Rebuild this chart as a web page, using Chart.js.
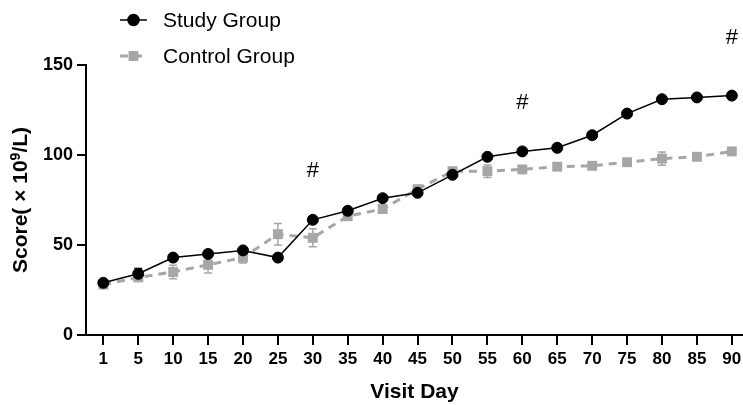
<!DOCTYPE html>
<html>
<head>
<meta charset="utf-8">
<script src="https://cdn.jsdelivr.net/npm/chart.js@4.4.1/dist/chart.umd.min.js"></script>
<style>
  html, body { margin: 0; padding: 0; background: #fff; }
  #wrap { width: 743px; height: 405px; }
</style>
</head>
<body>
<div id="wrap"><canvas id="scoreChart" width="743" height="405"></canvas></div>
<script>
// values
const days = ['1', '5', '10', '15', '20', '25', '30', '35', '40', '45',
  '50', '55', '60', '65', '70', '75', '80', '85', '90'];
const studyGroup = [29, 34, 43, 45, 47, 43, 64, 69, 76, 79,
  89, 99, 102, 104, 111, 123, 131, 132, 133];
const studyErr = [1, 3, 1, 1, 1, 1, 1, 1, 1, 1,
  1, 1, 1, 1, 1, 1, 1, 1, 1];
const controlGroup = [28, 32, 35, 39, 43, 56, 54, 66, 70, 81,
  91, 91, 92, 93.5, 94, 96, 98, 99, 102];
const controlErr = [1.5, 2, 3.7, 4.5, 3, 6, 5, 1.5, 1.5, 2,
  2, 3.5, 1, 1, 1, 1, 3.7, 1, 1];
const yTicks = [0, 50, 100, 150];
const hashDays = ['30', '60', '90'];
const hashLevel = [91, 129, 165];

const BLACK = '#000';
const GRAY = '#a6a6a6';
const FONT = "'Liberation Sans', Arial, sans-serif";

const toPoints = (arr) => arr.map((v, i) => ({ x: i, y: v }));

// error bars drawn under the markers
const errorBars = {
  id: 'errorBars',
  beforeDatasetsDraw(chart) {
    const { ctx, scales: { x, y } } = chart;
    chart.data.datasets.forEach((ds) => {
      ctx.save();
      ctx.strokeStyle = ds.borderColor;
      ctx.lineWidth = 1.5;
      ctx.setLineDash([]);
      ds.data.forEach((p, i) => {
        const e = ds.errors[i];
        const px = x.getPixelForValue(p.x);
        const top = y.getPixelForValue(p.y + e);
        const bot = y.getPixelForValue(p.y - e);
        ctx.beginPath();
        ctx.moveTo(px, top); ctx.lineTo(px, bot);
        ctx.moveTo(px - 4, top); ctx.lineTo(px + 4, top);
        ctx.moveTo(px - 4, bot); ctx.lineTo(px + 4, bot);
        ctx.stroke();
      });
      ctx.restore();
    });
  }
};

// "#" significance marks
const hashMarks = {
  id: 'hashMarks',
  afterDatasetsDraw(chart) {
    const { ctx, scales: { x, y } } = chart;
    ctx.save();
    ctx.fillStyle = BLACK;
    ctx.font = '22px ' + FONT;
    ctx.textAlign = 'center';
    ctx.textBaseline = 'middle';
    hashDays.forEach((d, k) => {
      ctx.fillText('#', x.getPixelForValue(days.indexOf(d)), y.getPixelForValue(hashLevel[k]));
    });
    ctx.restore();
  }
};

// y title with a real superscript
const yTitle = {
  id: 'yTitle',
  afterDraw(chart) {
    const { ctx, chartArea } = chart;
    const parts = [
      { t: 'Score( × 10', f: 'bold 21px ' + FONT, dy: 0 },
      { t: '9', f: 'bold 14px ' + FONT, dy: -7 },
      { t: '/L)', f: 'bold 21px ' + FONT, dy: 0 }
    ];
    ctx.save();
    let total = 0;
    parts.forEach((p) => { ctx.font = p.f; p.w = ctx.measureText(p.t).width; total += p.w; });
    ctx.translate(27, (chartArea.top + chartArea.bottom) / 2);
    ctx.rotate(-Math.PI / 2);
    ctx.fillStyle = BLACK;
    ctx.textAlign = 'left';
    ctx.textBaseline = 'alphabetic';
    let pos = -total / 2;
    parts.forEach((p) => {
      ctx.font = p.f;
      ctx.fillText(p.t, pos, p.dy);
      pos += p.w;
    });
    ctx.restore();
  }
};

// stacked legend in the top left corner
const sideLegend = {
  id: 'sideLegend',
  afterDraw(chart) {
    const ctx = chart.ctx;
    const rowY = [20, 56];
    chart.data.datasets.forEach((ds, i) => {
      const y = rowY[i];
      ctx.save();
      ctx.strokeStyle = ds.borderColor;
      ctx.lineWidth = ds.borderWidth;
      ctx.setLineDash(ds.borderDash || []);
      ctx.beginPath();
      ctx.moveTo(120, y); ctx.lineTo(147, y);
      ctx.stroke();
      ctx.setLineDash([]);
      ctx.fillStyle = ds.pointBackgroundColor;
      ctx.strokeStyle = ds.pointBorderColor;
      Chart.helpers.drawPoint(ctx, {
        pointStyle: ds.pointStyle, radius: ds.pointRadius,
        rotation: 0, borderWidth: ds.pointBorderWidth
      }, 133.5, y);
      ctx.fillStyle = BLACK;
      ctx.font = '21px ' + FONT;
      ctx.textAlign = 'left';
      ctx.textBaseline = 'middle';
      ctx.fillText(ds.label, 163, y + 1);
      ctx.restore();
    });
  }
};

new Chart(document.getElementById('scoreChart'), {
  type: 'line',
  data: {
    datasets: [
      {
        label: 'Study Group',
        data: toPoints(studyGroup),
        errors: studyErr,
        borderColor: BLACK,
        borderWidth: 1.5,
        pointStyle: 'circle',
        pointRadius: 5.5,
        pointBackgroundColor: BLACK,
        pointBorderColor: BLACK,
        pointBorderWidth: 1,
        tension: 0
      },
      {
        label: 'Control Group',
        data: toPoints(controlGroup),
        errors: controlErr,
        borderColor: GRAY,
        borderWidth: 3,
        borderDash: [8, 6],
        pointStyle: 'rect',
        pointRadius: 7,
        pointBackgroundColor: GRAY,
        pointBorderColor: GRAY,
        pointBorderWidth: 0,
        tension: 0
      }
    ]
  },
  options: {
    responsive: false,
    animation: false,
    devicePixelRatio: 1,
    layout: { autoPadding: false, padding: { top: 65, right: 0, bottom: 0, left: 0 } },
    plugins: {
      legend: { display: false },
      tooltip: { enabled: false }
    },
    scales: {
      x: {
        type: 'linear',
        min: -0.496,
        max: 18.32,
        afterBuildTicks: (s) => { s.ticks = days.map((d, i) => ({ value: i })); },
        afterFit: (s) => { s.height = 70; s.paddingLeft = 0; s.paddingRight = 0; },
        ticks: {
          callback: (v) => days[v],
          color: BLACK,
          font: { family: FONT, size: 17, weight: 'bold' },
          padding: 4,
          maxRotation: 0,
          autoSkip: false
        },
        grid: { drawOnChartArea: false, drawTicks: true, tickLength: 10, color: BLACK, lineWidth: 2 },
        border: { display: true, color: BLACK, width: 2 },
        title: {
          display: true,
          text: 'Visit Day',
          color: BLACK,
          font: { family: FONT, size: 21, weight: 'bold' },
          padding: { top: 0, bottom: 0 }
        }
      },
      y: {
        min: 0,
        max: 150,
        afterBuildTicks: (s) => { s.ticks = yTicks.map((v) => ({ value: v })); },
        afterFit: (s) => { s.width = 86; s.paddingTop = 0; s.paddingBottom = 0; },
        ticks: {
          color: BLACK,
          font: { family: FONT, size: 18, weight: 'bold' },
          padding: 4
        },
        grid: { drawOnChartArea: false, drawTicks: true, tickLength: 9, color: BLACK, lineWidth: 2 },
        border: { display: true, color: BLACK, width: 2 },
        title: { display: false }
      }
    }
  },
  plugins: [errorBars, hashMarks, yTitle, sideLegend]
});
</script>
</body>
</html>
